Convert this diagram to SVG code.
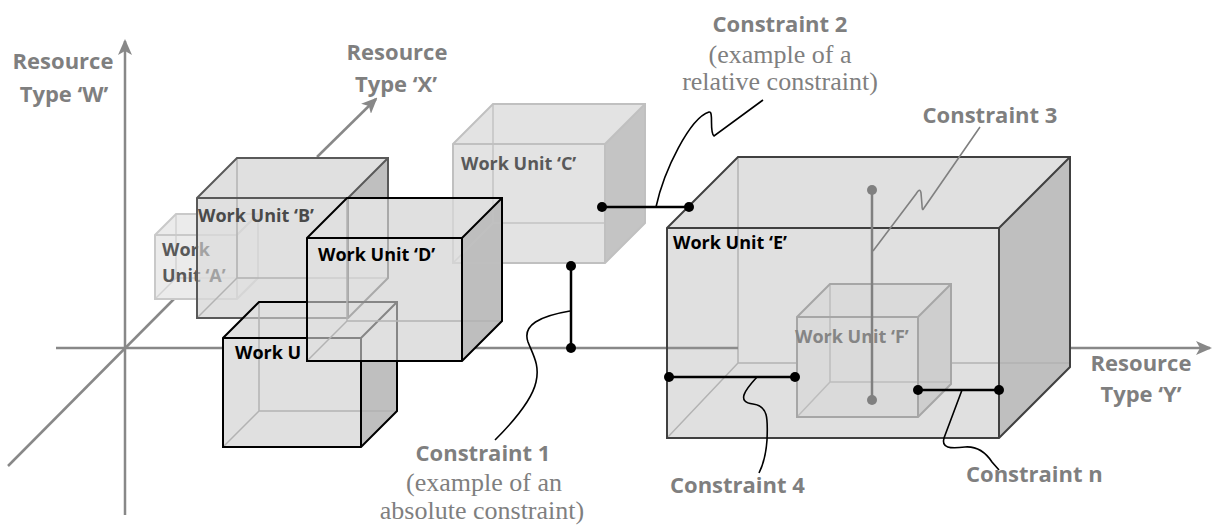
<svg xmlns="http://www.w3.org/2000/svg" xmlns:xlink="http://www.w3.org/1999/xlink" width="1214" height="527" viewBox="0 0 1214 527">
<style>
.ax{stroke:#888;stroke-width:2.5;fill:none}
.lbl{font-family:"Open Sans","Liberation Sans",sans-serif;font-weight:700;font-size:22px;fill:#7f7f7f}
.ser{font-family:"Liberation Serif",serif;font-size:26px;fill:#7f7f7f}
.wu{font-family:"Open Sans","Liberation Sans",sans-serif;font-weight:700;font-size:18px}
.fr{fill:#e0e0e0}
.sd{fill:#bfbfbf}
.hid{fill:none;stroke:#b3b3b3;stroke-width:1.5}
.out{fill:none;stroke-width:2;stroke-linejoin:miter}
.con{fill:none;stroke:#000;stroke-width:2.5}
.lead{fill:none;stroke:#000;stroke-width:1.6}
.dot{fill:#000}
</style>
<defs>
<marker id="arr" viewBox="0 0 16 14" refX="14" refY="7" markerWidth="16" markerHeight="14" markerUnits="userSpaceOnUse" orient="auto">
<path d="M0,0 L16,7 L0,14 L4,7 z" fill="#888"/>
</marker>
<clipPath id="clip-b"><polygon points="197,198 237,158 388,158 388,278 348,318 197,318"/></clipPath>
<clipPath id="clip-g"><polygon points="223,338 259,302 397,302 397,411 361,447 223,447"/></clipPath>
<clipPath id="clip-d"><polygon points="307,238 347,198 502,198 502,321 462,361 307,361"/></clipPath>
</defs>
<rect width="1214" height="527" fill="#fff"/>

<g id="axes">
<path class="ax" d="M125,515 V41" marker-end="url(#arr)"/>
<path class="ax" d="M56,348 H223 M475,348 H667"/>
<path class="ax" d="M1071,348 H1210" marker-end="url(#arr)"/>
<path class="ax" d="M8,466 L174,299"/>
<path class="ax" d="M317,157 L376,99" marker-end="url(#arr)"/>
<text class="lbl" text-anchor="middle"><tspan x="63" y="69">Resource</tspan><tspan x="64" y="102">Type ‘W’</tspan></text>
<text class="lbl" text-anchor="middle"><tspan x="397" y="60">Resource</tspan><tspan x="396" y="92">Type ‘X’</tspan></text>
<text class="lbl" text-anchor="middle"><tspan x="1141" y="371">Resource</tspan><tspan x="1141" y="402">Type ‘Y’</tspan></text>
</g>

<g id="node-a">
<polygon points="155,235 176,214 258,214 237,235" fill="#ebebeb"/>
<polygon points="237,235 258,214 258,278 237,299" fill="#dedede"/>
<rect x="155" y="235" width="82" height="64" fill="#ebebeb"/>
<g id="a-lines">
<path d="M176,214 V278 H258 M155,299 L176,278" fill="none" stroke="#d2d2d2" stroke-width="1.5"/>
<path class="out" stroke="#c9c9c9" d="M155,235 L176,214 H258 V278 L237,299 H155 Z M155,235 H237 L258,214 M237,235 V299"/>
</g>
<g id="a-text"><text class="wu" fill="#595959"><tspan x="162" y="256">Work</tspan><tspan x="162" y="282">Unit ‘A’</tspan></text></g>
</g>

<g id="node-b">
<polygon class="fr" points="197,198 237,158 388,158 348,198"/>
<polygon class="sd" points="348,198 388,158 388,278 348,318"/>
<rect class="fr" x="197" y="198" width="151" height="120"/>
<g clip-path="url(#clip-b)" opacity="0.45"><use href="#a-lines"/><use href="#a-text"/></g>
<g id="b-lines">
<path class="hid" d="M237,158 V278 H388 M197,318 L237,278"/>
<path class="out" stroke="#595959" d="M197,198 L237,158 H388 V278 L348,318 H197 Z M197,198 H348 L388,158 M348,198 V318"/>
</g>
<text class="wu" x="198" y="222" fill="#4a4a4a">Work Unit ‘B’</text>
</g>

<g id="node-c">
<polygon points="453,144 493,104 645,104 605,144" fill="#e3e3e3"/>
<polygon points="605,144 645,104 645,223 605,263" fill="#c4c4c4"/>
<rect x="453" y="144" width="152" height="119" fill="#e3e3e3"/>
<g id="c-lines">
<path d="M493,104 V223 H645 M453,263 L493,223" fill="none" stroke="#c4c4c4" stroke-width="1.5"/>
<path class="out" stroke="#c0c0c0" d="M453,144 L493,104 H645 V223 L605,263 H453 Z M453,144 H605 L645,104 M605,144 V263"/>
</g>
<text class="wu" x="461" y="170" fill="#595959">Work Unit ‘C’</text>
</g>

<g id="node-g">
<polygon class="fr" points="223,338 259,302 397,302 361,338"/>
<polygon class="sd" points="361,338 397,302 397,411 361,447"/>
<rect class="fr" x="223" y="338" width="138" height="109"/>
<g clip-path="url(#clip-g)" opacity="0.45"><use href="#b-lines"/></g>
<g id="g-lines">
<path class="hid" d="M259,302 V411 H397 M223,447 L259,411"/>
<path class="out" stroke="#000" d="M223,338 L259,302 H397 V411 L361,447 H223 Z M223,338 H361 L397,302 M361,338 V447"/>
</g>
<text class="wu" x="235" y="359" fill="#000">Work U</text>
</g>

<g id="node-d">
<polygon class="fr" points="307,238 347,198 502,198 462,238"/>
<polygon class="sd" points="462,238 502,198 502,321 462,361"/>
<rect class="fr" x="307" y="238" width="155" height="123"/>
<g clip-path="url(#clip-d)" opacity="0.4"><use href="#b-lines"/><use href="#c-lines"/><use href="#g-lines"/></g>
<path class="hid" d="M347,198 V321 H502 M307,361 L347,321"/>
<path class="out" stroke="#000" d="M307,238 L347,198 H502 V321 L462,361 H307 Z M307,238 H462 L502,198 M462,238 V361"/>
<text class="wu" x="318" y="261" fill="#000">Work Unit ‘D’</text>
</g>

<g id="node-e">
<polygon class="fr" points="667,228 738,157 1070,157 999,228"/>
<polygon class="sd" points="999,228 1070,157 1070,367 999,438"/>
<rect class="fr" x="667" y="228" width="332" height="210"/>
<path class="hid" stroke="#a8a8a8" d="M738,157 V363 H1070 M667,438 L738,363"/>
<path d="M667,348 H738" fill="none" stroke="#8c8c8c" stroke-width="2.5"/>
<path class="out" stroke="#404040" stroke-width="2.5" d="M667,228 L738,157 H1070 V367 L999,438 H667 Z M667,228 H999 L1070,157 M999,228 V438"/>
<text class="wu" x="673" y="249" fill="#000">Work Unit ‘E’</text>
</g>

<g id="node-f">
<polygon points="797,317 830,284 951,284 918,317" fill="#dadada"/>
<polygon points="918,317 951,284 951,384 918,417" fill="#cecece"/>
<rect x="797" y="317" width="121" height="100" fill="#dadada"/>
<path d="M830,284 V382 H951 M797,417 L830,382" fill="none" stroke="#bdbdbd" stroke-width="1.5"/>
<path class="out" stroke="#a6a6a6" d="M797,317 L830,284 H951 V384 L918,417 H797 Z M797,317 H918 L951,284 M918,317 V417"/>
<text class="wu" x="795" y="343" fill="#858585">Work Unit ‘F’</text>
</g>

<g id="connectors">
<path class="con" d="M602,207 H689"/>
<circle class="dot" cx="602" cy="207" r="5"/><circle class="dot" cx="689" cy="207" r="5"/>
<path class="lead" d="M656,207 C664,170 690,118 709,112 C714,111 709,132 714,136 L763,100"/>

<path class="con" d="M571,266 V348"/>
<circle class="dot" cx="571" cy="266" r="5"/><circle class="dot" cx="571" cy="348" r="5"/>
<path class="lead" d="M570,311 C540,316 522,325 528,342 C533,355 540,365 536,382 C532,400 510,425 495,440"/>

<path d="M872,190 V400" fill="none" stroke="#808080" stroke-width="2.5"/>
<circle cx="872" cy="190" r="5" fill="#808080"/><circle cx="872" cy="400" r="5" fill="#808080"/>
<path d="M980,127 L924,208 Q922,212 922,205 L921,193 Q920,187 916,194 L873,251" fill="none" stroke="#808080" stroke-width="1.6"/>

<path class="con" d="M669,377 H795"/>
<circle class="dot" cx="669" cy="377" r="5"/><circle class="dot" cx="795" cy="377" r="5"/>
<path class="lead" d="M757,377 C745,390 736,402 753,404 C768,406 768,418 767,440 C766,455 763,465 759,473"/>

<path class="con" d="M918,390 H999"/>
<circle class="dot" cx="918" cy="390" r="5"/><circle class="dot" cx="999" cy="390" r="5"/>
<path class="lead" d="M962,390 L944,438 C941,448 950,449 965,447 C978,446 986,453 992,462 L999,470"/>
</g>

<g id="labels">
<text class="lbl" x="780" y="32" text-anchor="middle">Constraint 2</text>
<text class="ser" text-anchor="middle"><tspan x="780" y="63">(example of a</tspan><tspan x="780" y="90">relative constraint)</tspan></text>
<text class="lbl" x="990" y="123" text-anchor="middle">Constraint 3</text>
<text class="lbl" x="483" y="461" text-anchor="middle">Constraint 1</text>
<text class="ser" text-anchor="middle"><tspan x="484" y="491">(example of an</tspan><tspan x="482" y="519">absolute constraint)</tspan></text>
<text class="lbl" x="670" y="493">Constraint 4</text>
<text class="lbl" x="966" y="482">Constraint n</text>
</g>
</svg>
